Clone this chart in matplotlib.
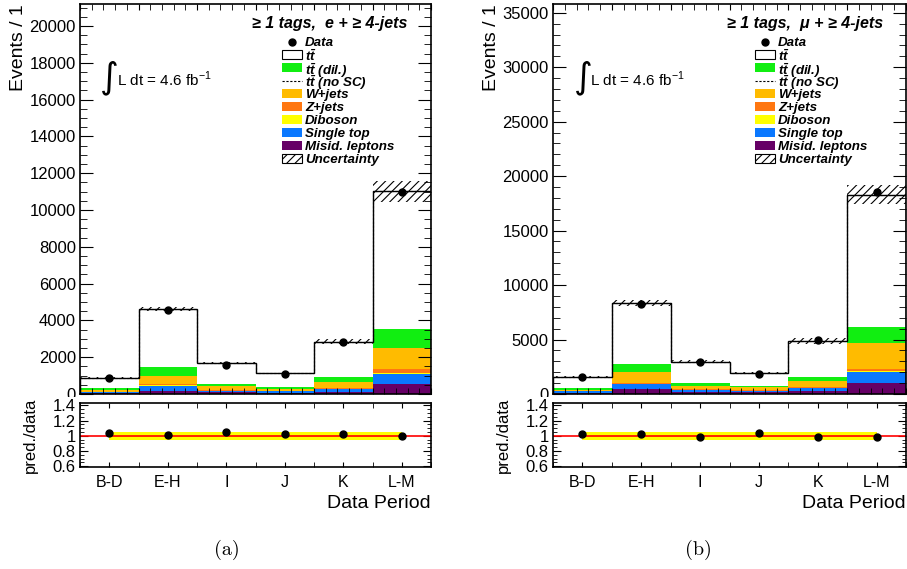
import numpy as np
import matplotlib
matplotlib.use('Agg')
import matplotlib.pyplot as plt
from matplotlib.patches import Rectangle
from matplotlib.ticker import MultipleLocator, FixedLocator, FixedFormatter

plt.rcParams['font.family'] = ['Liberation Sans', 'DejaVu Sans']
plt.rcParams['mathtext.fontset'] = 'custom'
plt.rcParams['mathtext.rm'] = 'Liberation Sans'
plt.rcParams['mathtext.bf'] = 'Liberation Sans:italic:bold'
plt.rcParams['hatch.linewidth'] = 0.8

# data periods
periods = ['B-D', 'E-H', 'I', 'J', 'K', 'L-M']

# electron channel (a)
misid_e = [54, 170, 90, 72, 127, 525]
stop_e = [55, 290, 91, 73, 145, 561]
dib_e = [6, 15, 7, 5, 10, 34]
zjets_e = [20, 65, 27, 20, 28, 238]
wjets_e = [82, 456, 219, 120, 342, 1158]
ttdil_e = [91, 453, 127, 72, 253, 1014]
tt_e = [582, 3171, 1129, 753, 1945, 7485]
nosc_e = [890, 4620, 1690, 1115, 2850, 11015]
unc_e = [40, 135, 60, 45, 140, 590]
data_e = [851, 4561, 1575, 1086, 2806, 10960]
derr_e = [29, 68, 40, 33, 53, 105]
ratio_e = [1.035, 1.01, 1.05, 1.02, 1.02, 1.0]
band_lo_e = [0.94, 0.94, 0.94, 0.94, 0.94, 0.94]
band_hi_e = [1.045, 1.045, 1.045, 1.045, 1.045, 1.045]

# muon channel (b)
misid_m = [123, 460, 184, 153, 307, 982]
stop_m = [122, 430, 184, 154, 246, 1014]
dib_m = [10, 30, 12, 8, 17, 92]
zjets_m = [35, 62, 40, 25, 44, 245]
wjets_m = [109, 1044, 348, 274, 583, 2364]
ttdil_m = [123, 737, 214, 123, 399, 1474]
tt_m = [1074, 5587, 1996, 1197, 3254, 12141]
nosc_m = [1596, 8350, 2978, 1934, 4850, 18312]
unc_m = [70, 300, 110, 80, 275, 840]
data_m = [1535, 8228, 2947, 1842, 4943, 18525]
derr_m = [39, 91, 54, 43, 70, 136]
ratio_m = [1.022, 1.022, 0.99, 1.035, 0.978, 0.987]
band_lo_m = [0.94, 0.94, 0.94, 0.94, 0.94, 0.94]
band_hi_m = [1.045, 1.045, 1.045, 1.045, 1.045, 1.045]

colors = {'misid': '#660066', 'stop': '#0a78ff', 'dib': '#ffff00',
          'zjets': '#ff7711', 'wjets': '#ffbb00', 'ttdil': '#11ee11', 'tt': 'white'}

legend_labels = ['Data', r'$\mathbf{t\bar{t}}$', r'$\mathbf{t\bar{t}}$ (dil.)',
                 r'$\mathbf{t\bar{t}}$ (no SC)', 'W+jets', 'Z+jets', 'Diboson',
                 'Single top', 'Misid. leptons', 'Uncertainty']
legend_kinds = ['data', 'tt', 'ttdil', 'nosc', 'wjets', 'zjets', 'dib',
                'stop', 'misid', 'unc']

W, H = 907, 569
fig = plt.figure(figsize=(W / 100, H / 100), dpi=100)


def px_axes(x0, y0, x1, y1):
    return fig.add_axes([x0 / W, 1 - y1 / H, (x1 - x0) / W, (y1 - y0) / H])


def draw_legend(ax, x0px, ax_x0, ax_y1, ax_w, ax_h):
    # rows laid out in pixels from the figure top, converted to axes coords
    tr = ax.transAxes
    bw, bh = 20, 9
    for i, (kind, lab) in enumerate(zip(legend_kinds, legend_labels)):
        yc = 41.7 + 12.95 * i
        ya = (ax_y1 - yc) / ax_h
        xa = (x0px - ax_x0) / ax_w
        wa = bw / ax_w
        ha = bh / ax_h
        if kind == 'data':
            ax.plot([xa + wa / 2], [ya], 'o', color='black', ms=5, transform=tr,
                    clip_on=False)
        elif kind == 'nosc':
            ax.plot([xa, xa + wa], [ya, ya], color='black', lw=0.8,
                    ls=(0, (2, 1.5)), transform=tr, clip_on=False)
        elif kind == 'tt':
            ax.add_patch(Rectangle((xa, ya - ha / 2), wa, ha, facecolor='white',
                                   edgecolor='black', lw=0.8, transform=tr))
        elif kind == 'unc':
            ax.add_patch(Rectangle((xa, ya - ha / 2), wa, ha, facecolor='white',
                                   edgecolor='black', hatch='////', lw=0.8,
                                   transform=tr))
        else:
            ax.add_patch(Rectangle((xa, ya - ha / 2), wa, ha, facecolor=colors[kind],
                                   lw=0, transform=tr))
        ax.text(xa + (bw + 3) / ax_w, ya, lab, transform=tr, ha='left',
                va='center_baseline', fontsize=9.6, fontweight='bold',
                fontstyle='italic')


def draw_panel(ax, ar, box, comps, nosc, unc, data, derr, ratio, lo, hi,
               ymax, ymaj, ymin_, title, caption_x, caption):
    n = len(periods)
    edges = np.arange(n + 1)
    centers = edges[:-1] + 0.5

    # stack, bottom to top
    bottom = np.zeros(n)
    for key, vals in comps:
        ax.bar(centers, vals, width=1, bottom=bottom, color=colors[key], lw=0, zorder=1)
        bottom = bottom + np.array(vals)
    ax.stairs(bottom, edges, color='black', lw=1.0, zorder=2)
    ax.stairs(nosc, edges, color='black', lw=0.8, ls=(0, (2, 1.5)), baseline=None, zorder=2)
    ax.bar(centers, 2 * np.array(unc), width=1, bottom=bottom - np.array(unc),
           fill=False, hatch='////', lw=0, edgecolor='black', zorder=3)
    ax.errorbar(centers, data, yerr=derr, fmt='o', color='black', ms=5,
                elinewidth=1, capsize=0, zorder=4)

    ax.set_xlim(0, n)
    ax.set_ylim(0, ymax)
    ax.yaxis.set_major_locator(MultipleLocator(ymaj))
    ax.yaxis.set_minor_locator(MultipleLocator(ymin_))
    ax.xaxis.set_major_locator(MultipleLocator(1))
    ax.xaxis.set_minor_locator(MultipleLocator(0.2))
    ax.tick_params(which='both', direction='in', top=True, right=True,
                   labelbottom=False, labelsize=12, pad=3)
    ax.tick_params(axis='y', which='major', length=9.5)
    ax.tick_params(axis='y', which='minor', length=5)
    ax.tick_params(axis='x', which='both', length=4.5)
    ax.set_ylabel('Events / 1', fontsize=14, loc='top')
    ax.yaxis.set_label_coords(-0.15, 1.0)
    for s in ax.spines.values():
        s.set_linewidth(1.2)

    ax.text(0.934, 0.949, title, transform=ax.transAxes, ha='right', va='center',
            fontsize=11.5, fontweight='bold', fontstyle='italic')
    ax.text(0.058, 0.812, '\u222b', transform=ax.transAxes, ha='left', va='center',
            fontsize=26, family='DejaVu Sans')
    ax.text(0.105, 0.806, r'L dt = 4.6 fb$^{-1}$', transform=ax.transAxes,
            ha='left', va='center', fontsize=11)

    x0, y0, x1, y1 = box
    draw_legend(ax, x0 + 202, x0, y1, x1 - x0, y1 - y0)

    # ratio panel
    ar.fill_between(centers, lo, hi, color='#ffff00', lw=0, zorder=1)
    ar.axhline(1.0, color='#ff0000', lw=1.2, zorder=2)
    ar.plot(centers, ratio, 'o', color='black', ms=5, zorder=3)
    ar.set_xlim(0, n)
    ar.set_ylim(0.59, 1.43)
    ar.yaxis.set_major_locator(FixedLocator([0.6, 0.8, 1.0, 1.2, 1.4]))
    ar.yaxis.set_major_formatter(FixedFormatter(['0.6', '0.8', '1', '1.2', '1.4']))
    ar.yaxis.set_minor_locator(MultipleLocator(0.05))
    ar.xaxis.set_major_locator(FixedLocator(centers))
    ar.xaxis.set_major_formatter(FixedFormatter(periods))
    ar.xaxis.set_minor_locator(FixedLocator(edges))
    ar.tick_params(which='both', direction='in', top=True, right=True, labelsize=12)
    ar.tick_params(axis='x', which='both', length=3.5, pad=6, labelsize=11.5)
    ar.tick_params(axis='y', which='major', length=5.5, pad=3)
    ar.tick_params(axis='y', which='minor', length=3)
    ar.set_ylabel('pred./data', fontsize=12)
    ar.yaxis.set_label_coords(-0.12, 0.5)
    ar.set_xlabel('Data Period', fontsize=14, loc='right', labelpad=3)
    for s in ar.spines.values():
        s.set_linewidth(1.2)

    fig.text(caption_x / W, 1 - 550 / H, caption, ha='center', va='center',
             fontsize=14.5, family=['cmr10', 'DejaVu Serif'])


box_e = (80, 4, 431, 394)
box_m = (553, 4, 906, 394)
ax_e = px_axes(*box_e)
ax_m = px_axes(*box_m)
ar_e = px_axes(80, 403, 431, 467)
ar_m = px_axes(553, 403, 906, 467)
for a in (ar_e, ar_m):
    a.set_zorder(2)

# white lower pad hides the lower half of the main panel's "0" label
fig.patches.append(Rectangle((0, 0), 1, 1 - 397 / H, transform=fig.transFigure,
                             facecolor='white', lw=0, zorder=1))

comps_e = [('misid', misid_e), ('stop', stop_e), ('dib', dib_e), ('zjets', zjets_e),
           ('wjets', wjets_e), ('ttdil', ttdil_e), ('tt', tt_e)]
comps_m = [('misid', misid_m), ('stop', stop_m), ('dib', dib_m), ('zjets', zjets_m),
           ('wjets', wjets_m), ('ttdil', ttdil_m), ('tt', tt_m)]

draw_panel(ax_e, ar_e, box_e, comps_e, nosc_e, unc_e, data_e, derr_e, ratio_e,
           band_lo_e, band_hi_e, 21200, 2000, 500,
           '\u2265 1 tags,  e + \u2265 4-jets', 227, '(a)')
draw_panel(ax_m, ar_m, box_m, comps_m, nosc_m, unc_m, data_m, derr_m, ratio_m,
           band_lo_m, band_hi_m, 35800, 5000, 1000,
           '\u2265 1 tags,  \u03bc + \u2265 4-jets', 698, '(b)')

fig.savefig('out.png', dpi=100)
